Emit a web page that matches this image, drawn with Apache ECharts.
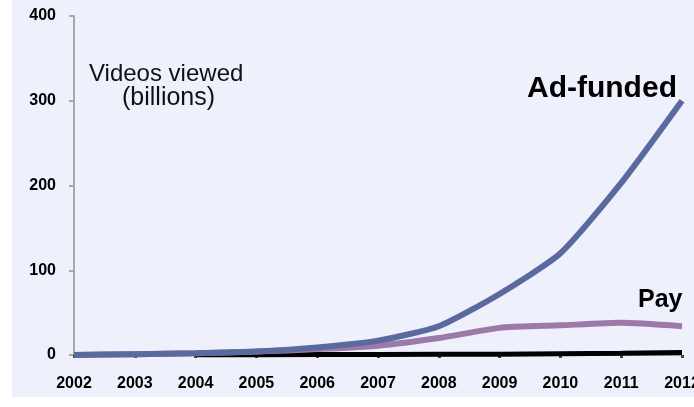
<!DOCTYPE html>
<html>
<head>
<meta charset="utf-8">
<script src="https://cdn.jsdelivr.net/npm/echarts@6/dist/echarts.min.js"></script>
<style>
  html, body { margin: 0; padding: 0; background: #fff; }
  #chart { width: 694px; height: 407px; }
</style>
</head>
<body>
<div id="chart"></div>
<script>
// 视频观看量（十亿）
var years = ['2002', '2003', '2004', '2005', '2006', '2007', '2008', '2009', '2010', '2011', '2012'];
var adFunded = [0, 1, 2, 4, 9, 17, 34, 72, 120, 203, 300];
var pay = [0, 1, 2, 4, 7, 11, 20, 32, 35, 38, 34];
var other = [null, null, 0, 0, 0.5, 0.5, 1, 1, 1.5, 2, 3];
var yTicks = [0, 100, 200, 300, 400];

var chart = echarts.init(document.getElementById('chart'));
var tickFont = {
    color: '#000',
    fontFamily: 'Liberation Sans, Arial',
    fontWeight: 'bold',
    fontSize: 16
};
var option = {
    animation: false,
    graphic: [
        { type: 'rect', shape: { x: 12, y: 0, width: 682, height: 397 }, style: { fill: '#EEF0FC' }, z: -10 },
        { type: 'text', left: 89, top: 62, style: { text: 'Videos viewed', font: '24px Liberation Sans, Arial', fill: '#111' } },
        { type: 'text', left: 122, top: 86, style: { text: '(billions)', font: '25px Liberation Sans, Arial', fill: '#111' } },
        { type: 'text', left: 527, top: 74, style: { text: 'Ad-funded', font: 'bold 30px Liberation Sans, Arial', fill: '#000' } },
        { type: 'text', left: 638, top: 288, style: { text: 'Pay', font: 'bold 25px Liberation Sans, Arial', fill: '#000' } }
    ],
    grid: { left: 74, right: 12, top: 16, bottom: 52, containLabel: false, outerBoundsMode: 'none' },
    xAxis: {
        type: 'category',
        data: years,
        boundaryGap: false,
        axisLine: { show: true, lineStyle: { color: '#A8A8A8', width: 1 } },
        axisTick: { show: true, alignWithLabel: true, length: 3, lineStyle: { color: '#444', width: 3 } },
        axisLabel: Object.assign({ margin: 21 }, tickFont)
    },
    yAxis: {
        type: 'value',
        min: yTicks[0],
        max: yTicks[yTicks.length - 1],
        interval: 100,
        axisLine: { show: true, lineStyle: { color: '#A8A8A8', width: 2 } },
        axisTick: { show: true, length: 5, lineStyle: { color: '#A8A8A8', width: 2 } },
        splitLine: { show: false },
        axisLabel: Object.assign({ margin: 18 }, tickFont)
    },
    series: [
        {
            name: 'Other', type: 'line', data: other, symbol: 'none',
            lineStyle: { color: '#000', width: 5 }, z: 2
        },
        {
            name: 'Pay', type: 'line', data: pay, symbol: 'none', smooth: 0.2,
            lineStyle: { color: '#9C7AA8', width: 6 }, z: 3
        },
        {
            name: 'Ad-funded', type: 'line', data: adFunded, symbol: 'none', smooth: 0.2,
            lineStyle: { color: '#5B6A9E', width: 6 }, z: 4
        }
    ]
};
chart.setOption(option);
</script>
</body>
</html>
